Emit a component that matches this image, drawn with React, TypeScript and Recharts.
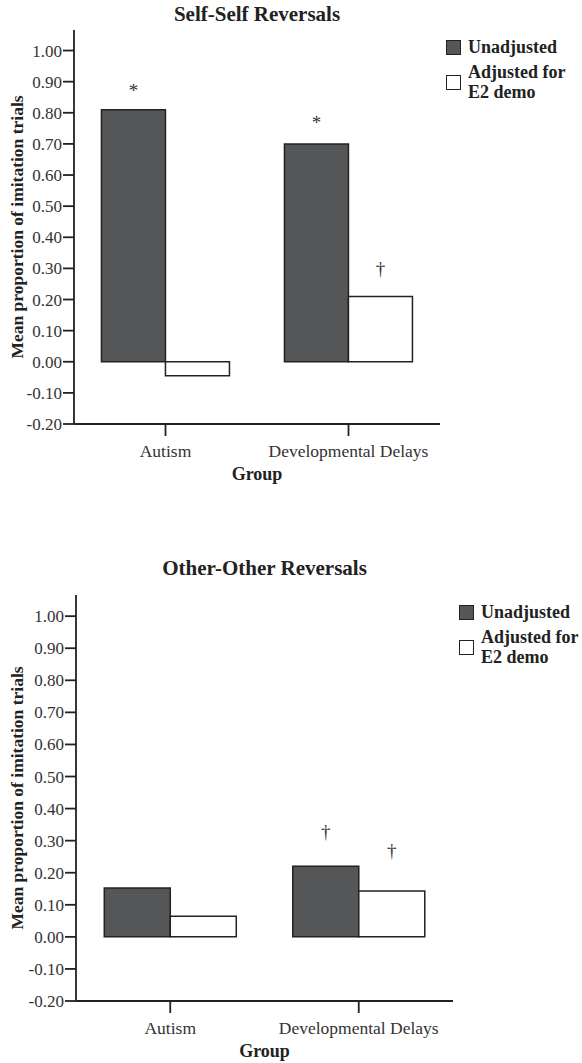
import React from "react";
import { Bar, BarChart, Label, LabelList, XAxis, YAxis } from "recharts";

const groups = ["Autism", "Developmental Delays"];
const seriesNames = ["Unadjusted", "Adjusted for E2 demo"];
const yTicks = [-0.2, -0.1, 0, 0.1, 0.2, 0.3, 0.4, 0.5, 0.6, 0.7, 0.8, 0.9, 1.0];

// Self-Self reversals
const selfUnadjusted = [0.81, 0.7];
const selfAdjusted = [-0.045, 0.21];
const selfUnadjustedMarks = ["*", "*"];
const selfAdjustedMarks = ["", "†"];
const selfUnadjustedMarkAt = [0.87, 0.77];
const selfAdjustedMarkAt = [0, 0.3];

// Other-Other reversals
const otherUnadjusted = [0.152, 0.22];
const otherAdjusted = [0.064, 0.143];
const otherUnadjustedMarks = ["", "†"];
const otherAdjustedMarks = ["", "†"];
const otherUnadjustedMarkAt = [0, 0.33];
const otherAdjustedMarkAt = [0, 0.27];

const FONT = '"Liberation Serif", "Times New Roman", serif';
const INK = "#222";
const DARK = "#555658";

function markContent(values: number[], marks: string[], markAt: number[]) {
  return (props: any) => {
    const { x, y, width, height, index } = props;
    const mark = marks[index];
    if (!mark) return null;
    const v = values[index];
    // pixel position of markAt, taken from the bar's own scale
    const zeroY = y + height;
    const perUnit = height / v;
    const cy = zeroY - markAt[index] * perUnit;
    return (
      <text
        x={x + width / 2}
        y={cy}
        textAnchor="middle"
        dominantBaseline="central"
        fontFamily={FONT}
        fontSize={19}
        fill="#333"
      >
        {mark}
      </text>
    );
  };
}

type PanelProps = {
  title: string;
  unadj: number[];
  adj: number[];
  unadjMarks: string[];
  adjMarks: string[];
  unadjMarkAt: number[];
  adjMarkAt: number[];
  top: number;
  height: number;
  margin: { top: number; right: number; left: number; bottom: number };
  yWidth: number;
  titleTop: number;
};

function Panel(p: PanelProps) {
  const data = groups.map((g, i) => ({ group: g, unadjusted: p.unadj[i], adjusted: p.adj[i] }));
  const plotLeft = p.margin.left + p.yWidth;
  const plotRight = 582 - p.margin.right;
  const axisLine = { stroke: INK, strokeWidth: 1.8 };
  return (
    <div style={{ position: "absolute", left: 0, top: p.top, width: 582, height: p.height }}>
      <div
        style={{
          position: "absolute",
          left: plotLeft,
          width: plotRight - plotLeft,
          top: p.titleTop,
          textAlign: "center",
          fontFamily: FONT,
          fontWeight: "bold",
          fontSize: 21,
          lineHeight: "24px",
          color: INK,
        }}
      >
        {p.title}
      </div>
      <BarChart
        width={582}
        height={p.height}
        data={data}
        margin={p.margin}
        barCategoryGap="15%"
        barGap={0}
      >
        <XAxis
          dataKey="group"
          height={62}
          axisLine={axisLine}
          tickLine={axisLine}
          tickSize={12}
          tickMargin={9}
          tick={{ fontFamily: FONT, fontSize: 17.5, fill: "#333" }}
          interval={0}
        >
          <Label
            value="Group"
            position="insideBottom"
            offset={6}
            style={{ fontFamily: FONT, fontSize: 18, fontWeight: "bold", fill: INK }}
          />
        </XAxis>
        <XAxis xAxisId="top" dataKey="group" orientation="top" height={0} tick={false} tickLine={false} axisLine={axisLine} />
        <YAxis
          domain={[-0.2, 1.066]}
          ticks={yTicks}
          interval={0}
          width={p.yWidth}
          allowDataOverflow
          axisLine={axisLine}
          tickLine={axisLine}
          tickSize={11}
          tickMargin={1}
          tickFormatter={(v: number) => v.toFixed(2)}
          tick={{ fontFamily: FONT, fontSize: 17, fill: "#333" }}
        >
          <Label
            value="Mean proportion of imitation trials"
            angle={-90}
            position="insideLeft"
            offset={17}
            style={{ fontFamily: FONT, fontSize: 17.5, fontWeight: "bold", fill: INK, textAnchor: "middle" }}
          />
        </YAxis>
        <YAxis yAxisId="right" orientation="right" width={0} tick={false} tickLine={false} axisLine={axisLine} />
        <Bar dataKey="unadjusted" name={seriesNames[0]} fill={DARK} stroke={INK} strokeWidth={1.5} isAnimationActive={false}>
          <LabelList dataKey="unadjusted" content={markContent(p.unadj, p.unadjMarks, p.unadjMarkAt)} />
        </Bar>
        <Bar dataKey="adjusted" name={seriesNames[1]} fill="#fff" stroke={INK} strokeWidth={1.5} isAnimationActive={false}>
          <LabelList dataKey="adjusted" content={markContent(p.adj, p.adjMarks, p.adjMarkAt)} />
        </Bar>
      </BarChart>
      <div
        style={{
          position: "absolute",
          left: plotRight + 6,
          top: p.margin.top + 7,
          fontFamily: FONT,
          fontWeight: "bold",
          fontSize: 18,
          lineHeight: "20px",
          color: INK,
        }}
      >
        {seriesNames.map((name, i) => (
          <div key={name} style={{ display: "flex", alignItems: "center", marginBottom: 5 }}>
            <div
              style={{
                width: 13,
                height: 13,
                border: `1.5px solid ${INK}`,
                background: i === 0 ? DARK : "#fff",
                marginRight: 7,
                flexShrink: 0,
              }}
            />
            <div style={{ width: 112 }}>{name}</div>
          </div>
        ))}
      </div>
    </div>
  );
}

export default function App() {
  return (
    <div style={{ position: "absolute", left: 0, top: 0, width: 582, height: 1063, overflow: "hidden", background: "#fff" }}>
      <Panel
        title="Self-Self Reversals"
        unadj={selfUnadjusted}
        adj={selfAdjusted}
        unadjMarks={selfUnadjustedMarks}
        adjMarks={selfAdjustedMarks}
        unadjMarkAt={selfUnadjustedMarkAt}
        adjMarkAt={selfAdjustedMarkAt}
        top={0}
        height={486}
        margin={{ top: 30, right: 142, left: 0, bottom: 0 }}
        yWidth={74}
        titleTop={2}
      />
      <Panel
        title="Other-Other Reversals"
        unadj={otherUnadjusted}
        adj={otherAdjusted}
        unadjMarks={otherUnadjustedMarks}
        adjMarks={otherAdjustedMarks}
        unadjMarkAt={otherUnadjustedMarkAt}
        adjMarkAt={otherAdjustedMarkAt}
        top={540}
        height={523}
        margin={{ top: 55, right: 129, left: 0, bottom: 0 }}
        yWidth={76}
        titleTop={16}
      />
    </div>
  );
}
